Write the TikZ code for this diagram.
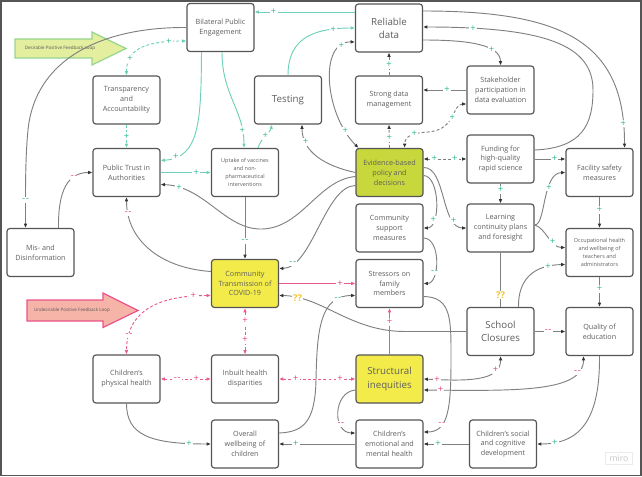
\documentclass[tikz,border=0pt]{standalone}
\usepackage{fontspec}
\setmainfont{Open Sans}
\usetikzlibrary{arrows.meta,calc}
\definecolor{boxc}{HTML}{555555}
\definecolor{txt}{HTML}{5E5E5E}
\definecolor{glc}{HTML}{808080}
\definecolor{tipc}{HTML}{333333}
\definecolor{tlc}{HTML}{6DD0B8}
\definecolor{tlab}{HTML}{2EB896}
\definecolor{plc}{HTML}{EC5A8D}
\definecolor{plab}{HTML}{E8447D}
\definecolor{yq}{HTML}{F2C230}
\definecolor{ebpf}{HTML}{C8D73C}
\definecolor{ctf}{HTML}{F3EB4A}
\definecolor{dfill}{HTML}{E3EE9F}
\definecolor{dline}{HTML}{96D58C}
\definecolor{ufill}{HTML}{F6B3A8}
\definecolor{uline}{HTML}{E9558A}
\definecolor{framec}{HTML}{555555}
\newcommand\fsNorm{\fontsize{5.4}{7.4}\selectfont}
\newcommand\fsBig{\fontsize{7.3}{9.8}\selectfont}
\newcommand\fsSmall{\fontsize{4.1}{6}\selectfont}
\newcommand\fsLab{\fontsize{7}{7}\selectfont}
\newcommand\fsQ{\fontsize{7}{7}\selectfont\bfseries}
\newcommand\fsTiny{\fontsize{3.4}{4}\selectfont}
\newcommand\dmin{-\kern0.5pt-}
\tikzset{
  box/.style={draw=boxc, line width=0.9pt, rounded corners=2.2pt, fill=white,
    minimum width=50.25pt, minimum height=36pt, align=center, text=txt,
    inner sep=0pt, font=\fsNorm},
  gln/.style={draw=glc, line width=0.7pt},
  tln/.style={draw=tlc, line width=0.7pt},
  pln/.style={draw=plc, line width=0.7pt},
  ga/.style={-{Latex[length=3.2pt,width=2.8pt,color=tipc]}},
  gb/.style={{Latex[length=3.2pt,width=2.8pt,color=tipc]}-{Latex[length=3.2pt,width=2.8pt,color=tipc]}},
  ca/.style={-{Latex[length=3.2pt,width=2.8pt]}},
  cb/.style={{Latex[length=3.2pt,width=2.8pt]}-{Latex[length=3.2pt,width=2.8pt]}},
  dsh/.style={dash pattern=on 2.2pt off 1.6pt},
  lb/.style={fill=white, inner sep=0.9pt, font=\fsLab},
  tp/.style={lb, text=tlab},
  pp/.style={lb, text=plab},
  qq/.style={fill=white, inner sep=0.7pt, font=\fsQ, text=yq}
}
\begin{document}
\begin{tikzpicture}[x=0.75pt,y=-0.75pt]
\useasboundingbox (0,0) rectangle (642,477);
\draw[framec, line width=1.2pt] (1,1) rectangle (641,475.5);

% feedback loop arrows
\filldraw[fill=dfill, draw=dline, line width=0.9pt] (15,39) -- (92,39) -- (92,32) -- (126,48.5) -- (92,65) -- (92,58) -- (15,58) -- cycle;
\node[font=\fsTiny, text=black!65] (dlabel) at (60,48.5) {Desirable Positive Feedback Loop};
\filldraw[fill=ufill, draw=uline, line width=0.9pt] (27,300) -- (103,300) -- (103,293) -- (138,310.5) -- (103,327.5) -- (103,321) -- (27,321) -- cycle;
\node[font=\fsTiny, text=black!65] (ulabel) at (72,310.5) {Undesirable Positive Feedback Loop};

% miro mark
\node[draw=black!8, fill=white, text=black!22, font=\fontsize{6.5}{6.5}\selectfont, minimum width=20pt, minimum height=9pt, inner sep=0.5pt] (miro) at (619,458.5) {miro};

% boxes
\node[box] (BPE) at (220.5,27.5) {Bilateral Public\\Engagement};
\node[box, font=\fsBig] (RD) at (389,28) {Reliable\\data};
\node[box] (TA) at (126.5,100) {Transparency\\and\\Accountability};
\node[box, font=\fsBig] (Test) at (288,100) {Testing};
\node[box] (SDM) at (389,100) {Strong data\\management};
\node[box] (SPD) at (500.5,90) {Stakeholder\\participation in\\data evaluation};
\node[box] (PTA) at (126.5,172.5) {Public Trust in\\Authorities};
\node[box, font=\fsSmall] (UV) at (245,172.5) {Uptake of vaccines\\and non-\\pharmaceutical\\interventions};
\node[box, fill=ebpf] (EBP) at (389.5,172.5) {Evidence-based\\policy and\\decisions};
\node[box] (FHQ) at (500.5,159) {Funding for\\high-quality\\rapid science};
\node[box] (FSM) at (599.5,172.5) {Facility safety\\measures};
\node[box] (CSM) at (389.5,228) {Community\\support\\measures};
\node[box] (LCP) at (500.5,228) {Learning\\continuity plans\\and foresight};
\node[box, font=\fsSmall] (OHW) at (599.5,252.5) {Occupational health\\and wellbeing of\\teachers and\\administrators};
\node[box] (MD) at (40.5,252.5) {Mis- and\\Disinformation};
\node[box, fill=ctf] (CT) at (245,283.5) {Community\\Transmission of\\COVID-19};
\node[box] (SFM) at (389.5,283.5) {Stressors on\\family\\members};
\node[box, font=\fsBig] (SC) at (500.5,331.5) {School\\Closures};
\node[box] (QE) at (599.5,331.5) {Quality of\\education};
\node[box] (CPH) at (126.5,379) {Children's\\physical health};
\node[box] (IHD) at (245,379) {Inbuilt health\\disparities};
\node[box, fill=ctf, font=\fsBig] (SI) at (389.5,379) {Structural\\inequities};
\node[box] (OWC) at (245,444) {Overall\\wellbeing of\\children};
\node[box] (CEM) at (389.5,444) {Children's\\emotional and\\mental health};
\node[box] (CSC) at (503,444) {Children's social\\and cognitive\\development};

% connectors
\draw[tln,ca] ($(RD.west)+(0,-16)$) -- ($(BPE.east)+(0,-15.5)$) node[tp,pos=0.81] (l1) {+};
\draw[tln,cb,dsh] (TA.north) .. controls (126.5,52) and (140,41) .. ($(BPE.west)+(0,13.5)$) node[tp,pos=0.28] (l2) {+} node[tp,pos=0.86] (l3) {+};
\draw[tln,ca,dsh] (TA.south) -- (PTA.north) node[tp,pos=0.5] (l4) {+};
\draw[tln,ca] ($(BPE.south)+(-19,0)$) .. controls (201,120) and (200,158) .. ($(PTA.east)+(0,-12)$) node[tp,pos=0.85] (l5) {+};
\draw[tln,ca] ($(BPE.south)+(1.5,0)$) .. controls (222,95) and (244,110) .. ($(UV.north)+(-1,0)$) node[tp,pos=0.83] (l6) {+};
\draw[tln,ca] ($(UV.north)+(13,0)$) .. controls (261,138) and (270,133) .. ($(Test.south)+(-16,0)$) node[tp,pos=0.5] (l7) {+};
\draw[tln,ca] (Test.north) .. controls (288,42) and (308,28) .. (RD.west) node[tp,pos=0.83] (l8) {+};
\draw[gln,gb] ($(RD.west)+(0,14)$) .. controls (318,41) and (325,115) .. ($(EBP.north)+(-31,0)$) node[tp,pos=0.15] (l9) {+} node[tp,pos=0.85] (l10) {+};
\draw[gln,ga] (EBP.west) .. controls (325,166) and (302,152) .. ($(Test.south)+(14,0)$) node[tp,pos=0.76] (l11) {+};
\draw[gln,ga] ($(EBP.west)+(0,4)$) .. controls (318,180) and (302,228) .. (262,229) .. controls (225,230) and (205,186) .. ($(PTA.east)+(0,12)$) node[tp,pos=0.85] (l12) {+};
\draw[gln,ga] ($(EBP.west)+(0,13)$) .. controls (325,186) and (312,268) .. ($(CT.east)+(0,-15)$) node[tp,pos=0.85] (l13) {\dmin};
\draw[gln,ga] (UV.south) -- (CT.north) node[tp,pos=0.71] (l14) {\dmin};
\draw[tln,ca] (PTA.east) -- (UV.west) node[tp,pos=0.71] (l15) {+};
\draw[gln,ga] ($(CT.west)+(0,-12)$) .. controls (160,268) and (126.5,240) .. (PTA.south) node[pp,pos=0.87] (l16) {\dmin};
\draw[gln,ga] (BPE.west) .. controls (100,27) and (35,60) .. (28,130) .. controls (25,160) and (25.5,200) .. ($(MD.north)+(-15,0)$) node[tp,pos=0.7] (l17) {\dmin};
\draw[gln,ga] ($(MD.north)+(18,0)$) .. controls (58,190) and (68,172.5) .. (PTA.west) node[pp,pos=0.7] (l18) {\dmin};
\draw[gln,ga] ($(RD.east)+(0,-17)$) .. controls (560,11) and (625,40) .. ($(FSM.north)+(25,0)$) node[tp,pos=0.92] (l19) {+};
\draw[gln,ga] ($(FHQ.east)+(0,-9)$) .. controls (582,148) and (593,125) .. (593,90) .. controls (593,45) and (545,27) .. ($(RD.east)+(0,-1)$) node[tp,pos=0.85] (l20) {+};
\draw[gln,ga] ($(RD.east)+(0,12)$) .. controls (470,40) and (500.5,45) .. (SPD.north) node[tp,pos=0.68] (l21) {+};
\draw[gln,ga] (SPD.west) -- (SPD.west -| SDM.east) node[tp,pos=0.45] (l22) {+};
\draw[gln,gb,dsh] ($(SPD.west)+(0,14)$) .. controls (452,104) and (456,130) .. (428,132) node[tp,pos=0.5] (l23) {+} .. controls (412,133) and (405,136) .. ($(EBP.north)+(15,0)$) node[tp,pos=0.35] (l24) {+};
\draw[gln,ga,dsh] (SDM.north) -- (RD.south) node[tp,pos=0.46] (l25) {+};
\draw[gln,ga,dsh] (EBP.north) -- (SDM.south) node[tp,pos=0.42] (l26) {+};
\draw[gln,gb,dsh] ($(EBP.east)+(0,-13.5)$) -- (FHQ.west) node[tp,pos=0.25] (l27) {+} node[tp,pos=0.73] (l28) {+};
\draw[gln,ga] ($(EBP.east)+(0,3)$) .. controls (440,176) and (441,228) .. (CSM.east) node[tp,pos=0.75] (l29) {+};
\draw[gln,ga] ($(EBP.east)+(0,-5)$) .. controls (446,167) and (441,228) .. (LCP.west) node[tp,pos=0.78] (l30) {+};
\draw[gln,ga] ($(CSM.east)+(0,10)$) .. controls (441,238) and (440,283.5) .. (SFM.east) node[tp,pos=0.68] (l31) {\dmin};
\draw[gln,ga] (FHQ.south) -- (LCP.north) node[tp,pos=0.33] (l32) {+};
\draw[gln,ga] (FHQ.east) -- (FHQ.east -| FSM.west) node[tp,pos=0.65] (l33) {+};
\draw[gln,ga] ($(LCP.east)+(0,-3)$) .. controls (546,225) and (542,173) .. (FSM.west) node[tp,pos=0.65] (l34) {+};
\draw[gln,ga] ($(LCP.east)+(0,-3)$) .. controls (546,228) and (550,247.5) .. ($(OHW.west)+(0,-5)$) node[tp,pos=0.65] (l35) {+};
\draw[gln,ga] (FSM.south) -- (OHW.north) node[tp,pos=0.42] (l36) {+};
\draw[gln,ga] (OHW.south) -- (QE.north) node[tp,pos=0.4] (l37) {+};
\draw[gln,ga] ($(SC.north)+(18,0)$) .. controls (518,280) and (533,265) .. ($(OHW.west)+(0,12)$) node[tp,pos=0.8] (l38) {+};
\draw[gln] (LCP.south) -- (SC.north) node[qq,pos=0.78] (l39) {??};
\draw[gln,ga] (SC.west) -- (405,331.5) .. controls (350,331.5) and (322,296) .. ($(CT.east)+(0,12)$) node[qq,pos=0.85] (l40) {??};
\draw[pln,ca] (CT.east) -- (SFM.west) node[pp,pos=0.8] (l41) {+};
\draw[gln,ga] ($(OWC.east)+(0,-11)$) .. controls (305,432) and (315,420) .. (316,380) .. controls (317,330) and (320,295.5) .. ($(SFM.west)+(0,12)$) node[tp,pos=0.8] (l42) {\dmin};
\draw[pln,ca] (SI.north) -- (SFM.south) node[pp,pos=0.71] (l43) {+};
\draw[pln,cb,dsh] (IHD.east) -- (SI.west) node[pp,pos=0.22] (l44) {+} node[pp,pos=0.8] (l45) {+};
\draw[pln,cb,dsh] (CPH.east) -- (IHD.west) node[pp,pos=0.33] (l46) {\dmin} node[pp,pos=0.71] (l47) {+};
\draw[pln,cb,dsh] (CT.south) -- (IHD.north) node[pp,pos=0.27] (l48) {+} node[pp,pos=0.69] (l49) {+};
\draw[pln,cb,dsh] ($(CT.west)+(0,12)$) .. controls (160,295.5) and (126.5,310) .. (CPH.north) node[pp,pos=0.12] (l50) {+} node[pp,pos=0.84] (l51) {\dmin};
\draw[gln,ga] (CPH.south) .. controls (126.5,435) and (150,444) .. (OWC.west) node[tp,pos=0.87] (l52) {+};
\draw[gln,ga] (CEM.west) -- (OWC.east) node[tp,pos=0.78] (l53) {+};
\draw[gln,ga] (CSC.west) -- (CEM.east) node[tp,pos=0.68] (l54) {+};
\draw[gln,ga] ($(SI.west)+(0,11)$) .. controls (333,392) and (332,433) .. ($(CEM.west)+(0,-11)$) node[pp,pos=0.7] (l55) {\dmin};
\draw[gln,ga] ($(SFM.east)+(0,13)$) .. controls (452,297) and (451,320) .. (451,360) .. controls (451,410) and (448,432) .. ($(CEM.east)+(0,-12)$) node[pp,pos=0.66] (l56) {\dmin};
\draw[gln,gb] (SI.east) .. controls (465,381) and (501,382) .. (SC.south) node[pp,pos=0.11] (l57) {+} node[pp,pos=0.77] (l58) {+};
\draw[gln,gb] ($(SI.east)+(0,11)$) .. controls (520,391) and (583.5,392) .. ($(QE.south)+(-16,0)$) node[pp,pos=0.06] (l59) {+} node[pp,pos=0.82] (l60) {\dmin};
\draw[gln,ga] (QE.south) .. controls (600,420) and (580,444) .. (CSC.east) node[tp,pos=0.85] (l61) {+};
\draw[gln,ga] (SC.east) -- (QE.west) node[pp,pos=0.44] (l62) {\dmin};
\end{tikzpicture}
\end{document}
